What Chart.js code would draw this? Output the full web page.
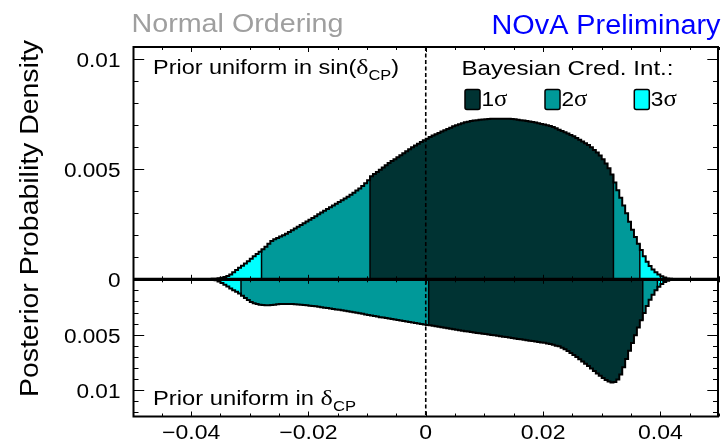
<!DOCTYPE html>
<html>
<head>
<meta charset="utf-8">
<script src="https://cdn.jsdelivr.net/npm/chart.js@4/dist/chart.umd.min.js"></script>
<style>
  html, body { margin: 0; padding: 0; background: #ffffff; }
  #wrap { width: 721px; height: 440px; position: relative; }
</style>
</head>
<body>
<div id="wrap"><canvas id="c"></canvas></div>
<script>
// Posterior binning: first bin lower edge and bin width (in the x variable)
const BIN_START = -0.0375;
const BIN_WIDTH = 0.0005;
// Densities below are listed in units of 1e-3
const DENSITY_UNIT = 1e-3;

// Prior uniform in sin(dCP) — upper panel
const priorSinDcp = [
  0.00, 0.01, 0.02, 0.03, 0.05, 0.07, 0.10, 0.15, 0.22, 0.32,
  0.42, 0.52, 0.62, 0.72, 0.82, 0.93, 1.05, 1.15, 1.25, 1.36,
  1.48, 1.62, 1.74, 1.82, 1.88, 1.94, 2.00, 2.07, 2.15, 2.23,
  2.31, 2.39, 2.47, 2.55, 2.63, 2.71, 2.79, 2.87, 2.95, 3.03,
  3.11, 3.19, 3.27, 3.35, 3.43, 3.51, 3.59, 3.67, 3.75, 3.84,
  3.93, 4.03, 4.13, 4.24, 4.36, 4.50, 4.68, 4.78, 4.88, 4.98,
  5.08, 5.18, 5.28, 5.37, 5.46, 5.55, 5.64, 5.73, 5.82, 5.91,
  6.00, 6.08, 6.16, 6.24, 6.32, 6.39, 6.46, 6.53, 6.59, 6.65,
  6.71, 6.77, 6.83, 6.89, 6.95, 7.00, 7.05, 7.09, 7.13, 7.16,
  7.19, 7.21, 7.23, 7.25, 7.26, 7.27, 7.28, 7.29, 7.30, 7.30,
  7.30, 7.30, 7.30, 7.29, 7.28, 7.27, 7.25, 7.23, 7.21, 7.19,
  7.17, 7.15, 7.12, 7.09, 7.06, 7.03, 7.00, 6.97, 6.92, 6.86,
  6.80, 6.74, 6.68, 6.62, 6.56, 6.50, 6.42, 6.34, 6.26, 6.18,
  6.10, 6.00, 5.88, 5.76, 5.62, 5.46, 5.26, 5.04, 4.76, 4.40,
  4.05, 3.70, 3.35, 3.00, 2.62, 2.25, 1.92, 1.62, 1.33, 1.05,
  0.80, 0.60, 0.44, 0.32, 0.22, 0.14, 0.08, 0.04, 0.02, 0.01,
  0.00, 0.00
];

// Prior uniform in dCP — lower panel
const priorDcp = [
  0.00, 0.00, 0.01, 0.08, 0.20, 0.34, 0.50, 0.66, 0.82, 0.98,
  1.13, 1.28, 1.48, 1.68, 1.88, 2.04, 2.16, 2.24, 2.29, 2.32,
  2.34, 2.34, 2.32, 2.29, 2.26, 2.24, 2.23, 2.22, 2.22, 2.23,
  2.25, 2.27, 2.29, 2.32, 2.35, 2.38, 2.41, 2.44, 2.48, 2.52,
  2.56, 2.60, 2.64, 2.68, 2.72, 2.76, 2.80, 2.84, 2.88, 2.92,
  2.97, 3.02, 3.07, 3.12, 3.17, 3.22, 3.27, 3.32, 3.37, 3.42,
  3.46, 3.50, 3.55, 3.59, 3.64, 3.68, 3.73, 3.77, 3.82, 3.86,
  3.91, 3.95, 4.00, 4.04, 4.08, 4.12, 4.16, 4.20, 4.24, 4.28,
  4.32, 4.37, 4.41, 4.46, 4.50, 4.55, 4.59, 4.64, 4.68, 4.72,
  4.76, 4.80, 4.84, 4.88, 4.91, 4.95, 4.98, 5.02, 5.06, 5.10,
  5.14, 5.18, 5.22, 5.26, 5.30, 5.34, 5.38, 5.42, 5.46, 5.50,
  5.54, 5.58, 5.62, 5.66, 5.70, 5.74, 5.79, 5.85, 5.92, 6.00,
  6.05, 6.18, 6.32, 6.48, 6.66, 6.84, 7.02, 7.22, 7.42, 7.62,
  7.84, 8.06, 8.28, 8.50, 8.72, 8.92, 9.10, 9.24, 9.31, 9.28,
  9.05, 8.60, 7.95, 7.20, 6.45, 5.75, 5.05, 4.35, 3.70, 3.05,
  2.40, 1.85, 1.40, 1.00, 0.68, 0.42, 0.24, 0.12, 0.05, 0.02,
  0.00, 0.00
];

// Credible-interval edges, left to right: 3σ|2σ, 2σ|1σ, 1σ|2σ, 2σ|3σ
const sinDcpIntervalEdges = [-0.028, -0.0095, 0.032, 0.0365];
const dcpIntervalEdges = [-0.0315, 0.0005, 0.037, 0.0395];

const levelLabels = ['1', '2', '3'];
const levelColors = ['#003333', '#009999', '#00ffff'];

const xRange = [-0.05, 0.05];
const xMajorTicks = [-0.04, -0.02, 0, 0.02, 0.04];
const xMinorStep = 0.005;
const yMajorTicks = [0, 0.005, 0.01];
const yMinorStep = 0.001;
const upperMax = 0.0106;
const lowerMax = 0.01248;

const FONT = '"Liberation Sans", Arial, Helvetica, sans-serif';
const GREEK_FONT = '"Liberation Serif", "DejaVu Serif", serif';

function binsToPoints(values, i0, i1) {
  const pts = [];
  for (let i = i0; i < i1; i++) {
    pts.push({ x: BIN_START + i * BIN_WIDTH, y: values[i] * DENSITY_UNIT });
  }
  pts.push({ x: BIN_START + i1 * BIN_WIDTH, y: values[i1 - 1] * DENSITY_UNIT });
  return pts;
}

function curveDatasets(values, edges, axisId) {
  const sets = [];
  const regionLevel = [2, 1, 0, 1, 2];
  const cuts = [0, ...edges.map(e => Math.round((e - BIN_START) / BIN_WIDTH)), values.length];
  for (let r = 0; r < 5; r++) {
    sets.push({
      data: binsToPoints(values, cuts[r], cuts[r + 1]),
      yAxisID: axisId, stepped: true, fill: 'origin',
      backgroundColor: levelColors[regionLevel[r]],
      borderWidth: 0, pointRadius: 0, order: 3
    });
  }
  edges.forEach((e, k) => {
    const i = cuts[k + 1];
    const h = Math.max(values[i - 1], values[i]) * DENSITY_UNIT;
    sets.push({
      data: [{ x: e, y: 0 }, { x: e, y: h }],
      yAxisID: axisId, fill: false, borderColor: '#000000',
      borderWidth: 1.5, pointRadius: 0, order: 2
    });
  });
  sets.push({
    data: binsToPoints(values, 0, values.length),
    yAxisID: axisId, stepped: true, fill: false,
    borderColor: '#000000', borderWidth: 2, pointRadius: 0, order: 1
  });
  return sets;
}

// Draw a run of text pieces with a common horizontal scale
function drawRich(ctx, parts, x, y, opt) {
  ctx.save();
  ctx.fillStyle = opt.color || '#000000';
  let natural = 0;
  parts.forEach(p => {
    ctx.font = p.size + 'px ' + (p.family || FONT);
    p.w = ctx.measureText(p.text).width;
    natural += p.w;
  });
  const sx = opt.width ? opt.width / natural : (opt.sx || 1);
  const total = natural * sx;
  const x0 = opt.align === 'right' ? x - total : opt.align === 'center' ? x - total / 2 : x;
  ctx.translate(x0, y);
  ctx.scale(sx, 1);
  ctx.textAlign = 'left';
  ctx.textBaseline = 'alphabetic';
  let cx = 0;
  parts.forEach(p => {
    ctx.font = p.size + 'px ' + (p.family || FONT);
    ctx.fillText(p.text, cx, p.dy || 0);
    cx += p.w;
  });
  ctx.restore();
}

function tickValues(lo, hi, step) {
  const out = [];
  const n = Math.round((hi - lo) / step);
  for (let i = 0; i <= n; i++) out.push(+(lo + i * step).toFixed(6));
  return out;
}
const isMajor = (v, majors) => majors.some(m => Math.abs(m - v) < 1e-9);

const framePlugin = {
  id: 'frame',
  afterDatasetsDraw(chart) {
    const ctx = chart.ctx;
    const xs = chart.scales.x, ys = chart.scales.y, ys2 = chart.scales.y2;
    const a = chart.chartArea;
    const L = a.left + 1, R = a.right - 1, T = a.top + 1, B = a.bottom - 1;
    const y0 = ys.getPixelForValue(0);
    ctx.save();
    ctx.strokeStyle = '#000000';

    // dashed marker at x = 0
    const xz = xs.getPixelForValue(0);
    ctx.setLineDash([4, 2.5]);
    ctx.lineWidth = 1.6;
    ctx.beginPath(); ctx.moveTo(xz, T); ctx.lineTo(xz, B); ctx.stroke();
    ctx.setLineDash([]);

    // x ticks: bottom, top, and both sides of the zero line
    ctx.lineWidth = 1;
    tickValues(xRange[0], xRange[1], xMinorStep).forEach(v => {
      const px = Math.round(xs.getPixelForValue(v)) + 0.5;
      const major = isMajor(v, xMajorTicks);
      const len = major ? 5 : 3;
      const mid = major ? 4.5 : 3;
      ctx.beginPath();
      ctx.moveTo(px, B); ctx.lineTo(px, B - len);
      ctx.moveTo(px, T); ctx.lineTo(px, T + len);
      ctx.moveTo(px, y0 - mid); ctx.lineTo(px, y0 + mid);
      ctx.stroke();
    });

    // y ticks on both pads, left and right
    ctx.lineWidth = 1.2;
    const yTicksFor = (scale, max) => {
      tickValues(0, Math.floor(max / yMinorStep + 1e-6) * yMinorStep, yMinorStep).forEach(v => {
        const py = Math.round(scale.getPixelForValue(v)) + 0.5;
        const len = isMajor(v, yMajorTicks) ? 10.7 : 5;
        ctx.beginPath();
        ctx.moveTo(L, py); ctx.lineTo(L + len, py);
        ctx.moveTo(R, py); ctx.lineTo(R - len, py);
        ctx.stroke();
      });
    };
    yTicksFor(ys, upperMax);
    yTicksFor(ys2, lowerMax);

    // zero line shared by both pads
    ctx.lineWidth = 3.2;
    ctx.beginPath(); ctx.moveTo(L, y0); ctx.lineTo(R, y0); ctx.stroke();

    // frame
    ctx.lineWidth = 2;
    ctx.strokeRect(L, T, R - L, B - T);
    ctx.restore();
  },
  afterDraw(chart) {
    const ctx = chart.ctx;
    const xs = chart.scales.x, ys = chart.scales.y, ys2 = chart.scales.y2;

    // y tick labels
    yMajorTicks.forEach(v => {
      drawRich(ctx, [{ text: String(v), size: 20 }], 120.5, ys.getPixelForValue(v) + 8, { align: 'right', sx: 1.13 });
    });
    yMajorTicks.filter(v => v > 0).forEach(v => {
      drawRich(ctx, [{ text: String(v), size: 20 }], 120.5, ys2.getPixelForValue(v) + 8, { align: 'right', sx: 1.13 });
    });
    // x tick labels
    xMajorTicks.forEach(v => {
      drawRich(ctx, [{ text: String(v).replace('-', '\u2212'), size: 20 }], xs.getPixelForValue(v), 439, { align: 'center', sx: 1.15 });
    });

    // y-axis title, rotated
    ctx.save();
    ctx.translate(37.5, 218.5);
    ctx.rotate(-Math.PI / 2);
    ctx.font = '24px ' + FONT;
    const tw = ctx.measureText('Posterior Probability Density').width;
    ctx.scale(357 / tw, 1.1);
    ctx.fillStyle = '#000000';
    ctx.textAlign = 'center';
    ctx.textBaseline = 'alphabetic';
    ctx.fillText('Posterior Probability Density', 0, 0);
    ctx.restore();

    // headers
    drawRich(ctx, [{ text: 'Normal Ordering', size: 26 }], 131.5, 31.7, { width: 212, color: '#9f9f9f' });
    drawRich(ctx, [{ text: 'NOvA Preliminary', size: 27 }], 720.5, 34, { width: 229, align: 'right', color: '#0000ff' });

    // panel captions
    drawRich(ctx, [
      { text: 'Prior uniform in sin(', size: 20 },
      { text: 'δ', size: 22, family: GREEK_FONT },
      { text: 'CP', size: 14, dy: 6 },
      { text: ')', size: 20 }
    ], 153, 74, { width: 246 });
    drawRich(ctx, [
      { text: 'Prior uniform in ', size: 20 },
      { text: 'δ', size: 22, family: GREEK_FONT },
      { text: 'CP', size: 14, dy: 6 }
    ], 153, 405, { width: 203 });

    // credible-interval key
    drawRich(ctx, [{ text: 'Bayesian Cred. Int.:', size: 21 }], 461.5, 75, { width: 212 });
    const keyX = [465, 545, 634.3];
    levelLabels.forEach((lab, k) => {
      const bx = keyX[k];
      ctx.save();
      ctx.fillStyle = levelColors[k];
      ctx.strokeStyle = '#000000';
      ctx.lineWidth = 1.5;
      ctx.beginPath();
      ctx.roundRect(bx, 89.5, 15, 20, 2);
      ctx.fill();
      ctx.stroke();
      ctx.restore();
      drawRich(ctx, [
        { text: lab, size: 21 },
        { text: 'σ', size: 23, family: GREEK_FONT }
      ], bx + 16.5, 105.5, { width: 26 });
    });
  }
};

const hiddenAxis = {
  display: true,
  ticks: { display: false },
  grid: { display: false, drawTicks: false, tickLength: 0 },
  border: { display: false }
};

new Chart(document.getElementById('c'), {
  type: 'line',
  data: {
    datasets: [
      ...curveDatasets(priorSinDcp, sinDcpIntervalEdges, 'y'),
      ...curveDatasets(priorDcp, dcpIntervalEdges, 'y2')
    ]
  },
  options: {
    responsive: true,
    maintainAspectRatio: false,
    devicePixelRatio: 1,
    animation: false,
    events: [],
    layout: { padding: { left: 132.5, right: 2, top: 46, bottom: 22.5 } },
    plugins: { legend: { display: false }, tooltip: { enabled: false }, title: { display: false } },
    scales: {
      x: { ...hiddenAxis, type: 'linear', min: xRange[0], max: xRange[1] },
      y2: { ...hiddenAxis, type: 'linear', position: 'left', min: 0, max: lowerMax, reverse: true, stack: 'pads', stackWeight: 138.2 },
      y: { ...hiddenAxis, type: 'linear', position: 'left', min: 0, max: upperMax, stack: 'pads', stackWeight: 233.3 }
    }
  },
  plugins: [framePlugin]
});
</script>
</body>
</html>
